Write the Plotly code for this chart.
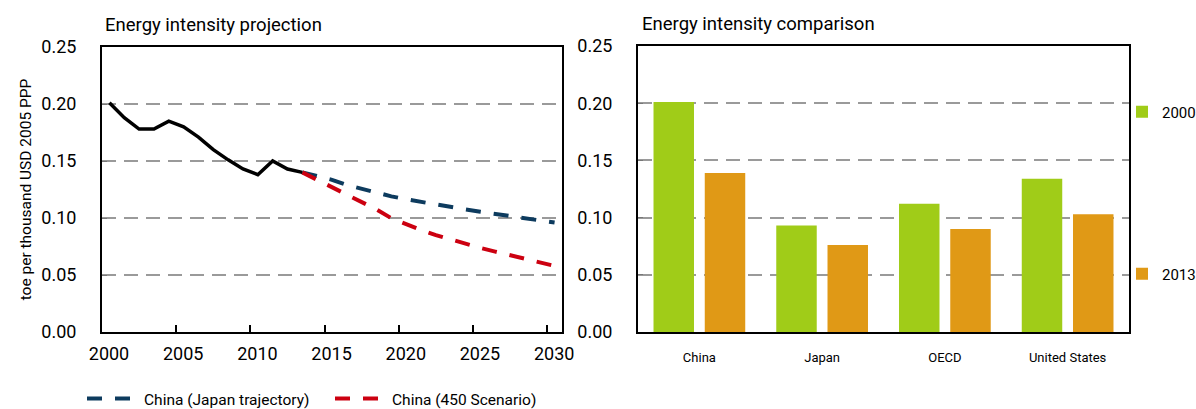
import plotly.graph_objects as go

# Left panel: historic and projected energy intensity of China
hist_years = list(range(2000, 2014))
hist_values = [0.201, 0.188, 0.178, 0.178, 0.185, 0.180, 0.171, 0.160,
               0.151, 0.143, 0.138, 0.150, 0.143, 0.140]

proj_years = list(range(2013, 2031))
japan_traj = [0.140, 0.1365, 0.1335, 0.129, 0.1255, 0.1222, 0.119, 0.1164, 0.114,
              0.1118, 0.1096, 0.1075, 0.1055, 0.1035, 0.1015, 0.0995, 0.0978, 0.096]
scen_450 = [0.140, 0.1335, 0.127, 0.1205, 0.1143, 0.1075, 0.0998, 0.0945, 0.0895,
            0.085, 0.081, 0.077, 0.0738, 0.0705, 0.0672, 0.064, 0.061, 0.058]

tick_years = [2000, 2005, 2010, 2015, 2020, 2025, 2030]

# Right panel: comparison 2000 vs 2013
regions = ["China", "Japan", "OECD", "United States"]
val_2000 = [0.201, 0.093, 0.112, 0.134]
val_2013 = [0.139, 0.076, 0.090, 0.103]

y_ticks = [0.0, 0.05, 0.10, 0.15, 0.20, 0.25]

FONT = "Roboto, Lato, sans-serif"
W, H = 1196, 409

def px_x(p):
    return p / W

def px_y(p):
    return 1 - p / H

fig = go.Figure()

fig.add_trace(go.Scatter(
    x=proj_years, y=japan_traj, mode="lines", name="China (Japan trajectory)",
    line=dict(color="#0d3b5e", width=4, dash="15px,13px"),
    legend="legend", xaxis="x", yaxis="y"))
fig.add_trace(go.Scatter(
    x=proj_years, y=scen_450, mode="lines", name="China (450 Scenario)",
    line=dict(color="#cc0010", width=4, dash="15px,13px"),
    legend="legend", xaxis="x", yaxis="y"))
fig.add_trace(go.Scatter(
    x=hist_years, y=hist_values, mode="lines", name="History",
    line=dict(color="black", width=3.5), showlegend=False,
    xaxis="x", yaxis="y"))

fig.add_trace(go.Bar(
    x=regions, y=val_2000, name="2000", marker=dict(color="#a0cc18", line_width=0),
    legend="legend2", xaxis="x2", yaxis="y2"))
fig.add_trace(go.Bar(
    x=regions, y=val_2013, name="2013", marker=dict(color="#e09916", line_width=0),
    legend="legend3", xaxis="x2", yaxis="y2"))

grid = dict(showgrid=True, gridcolor="#9a9a9a", gridwidth=2, griddash="14px,8px")
frame = dict(showline=True, linecolor="black", linewidth=2, mirror=True,
             zeroline=False, automargin=False)

fig.update_layout(
    width=W, height=H,
    margin=dict(l=0, r=0, t=0, b=0, autoexpand=False),
    paper_bgcolor="white", plot_bgcolor="white",
    font=dict(family=FONT, color="black"),
    barmode="group", bargap=0.165, bargroupgap=0.21,
    xaxis=dict(
        domain=[px_x(102), px_x(562)], anchor="y",
        range=[1999.5, 2030.5],
        tickvals=[y - 0.5 for y in tick_years], ticktext=[str(y) for y in tick_years],
        ticks="inside", ticklen=7, tickwidth=2, tickcolor="black",
        ticklabelshift=7, ticklabelstandoff=4,
        tickfont=dict(size=18), showgrid=False, **frame),
    yaxis=dict(
        domain=[px_y(332), px_y(47)], anchor="x",
        range=[0, 0.25], tickvals=y_ticks, tickformat=".2f",
        ticks="inside", ticklen=5, tickcolor="#777777",
        ticklabelstandoff=20,
        tickfont=dict(size=18),
        title=dict(text="toe per thousand USD 2005 PPP", font=dict(size=15.5), standoff=6),
        **grid, **frame),
    xaxis2=dict(
        domain=[px_x(638), px_x(1129)], anchor="y2",
        ticks="", ticklabelstandoff=12, tickfont=dict(size=13), showgrid=False, **frame),
    yaxis2=dict(
        domain=[px_y(332), px_y(46)], anchor="x2",
        range=[0, 0.25], tickvals=y_ticks, tickformat=".2f",
        ticks="inside", ticklen=5, tickcolor="#777777",
        ticklabelstandoff=20,
        tickfont=dict(size=18), **grid, **frame),
    legend=dict(
        orientation="h", x=px_x(82), y=px_y(399), xanchor="left", yanchor="middle",
        font=dict(size=15.5), itemwidth=52, entrywidth=181, entrywidthmode="pixels",
        bgcolor="rgba(0,0,0,0)"),
    legend2=dict(
        x=px_x(1122), y=px_y(112), xanchor="left", yanchor="middle",
        font=dict(size=15), itemwidth=30, bgcolor="rgba(0,0,0,0)"),
    legend3=dict(
        x=px_x(1122), y=px_y(274), xanchor="left", yanchor="middle",
        font=dict(size=15), itemwidth=30, bgcolor="rgba(0,0,0,0)"),
    annotations=[
        dict(text="Energy intensity projection", x=px_x(103), y=px_y(25),
             xref="paper", yref="paper", xanchor="left", yanchor="middle",
             showarrow=False, font=dict(size=18.5)),
        dict(text="Energy intensity comparison", x=px_x(640), y=px_y(24),
             xref="paper", yref="paper", xanchor="left", yanchor="middle",
             showarrow=False, font=dict(size=18.5)),
    ],
)

# the page's default body margin would shift the figure by 8px
fig.write_html("out.html", config={"displayModeBar": False},
               post_script="document.body.style.margin='0';document.body.style.overflow='hidden';")
